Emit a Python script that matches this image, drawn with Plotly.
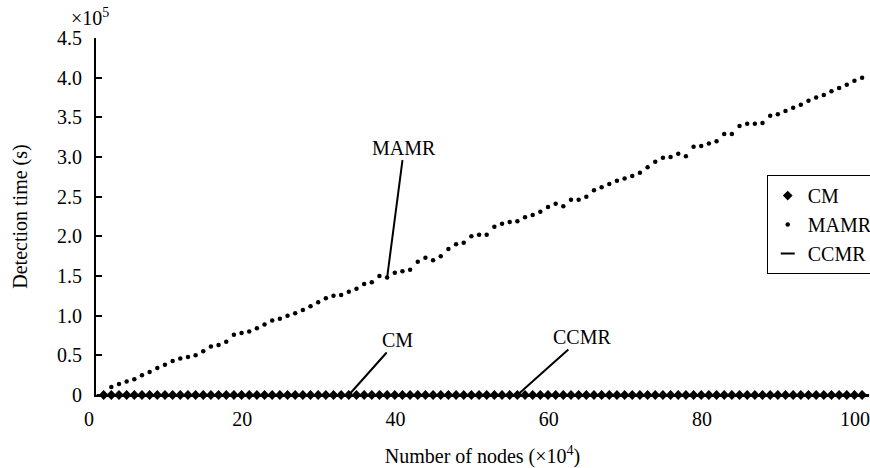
import plotly.graph_objects as go

# ---------------- data ----------------
nodes = list(range(1, 101))                      # number of nodes (x10^4)
cm_values = [0] * 100                            # CM detection time (x10^5 s), ~0 at this scale
ccmr_values = [0] * 100                          # CCMR detection time (x10^5 s), ~0 at this scale
mamr_nodes = list(range(2, 101))
mamr_values = [
    0.10, 0.14, 0.17, 0.20, 0.25, 0.29, 0.34, 0.38, 0.43, 0.46,
    0.48, 0.50, 0.55, 0.61, 0.63, 0.67, 0.76, 0.78, 0.80, 0.84,
    0.89, 0.94, 0.96, 1.00, 1.03, 1.07, 1.12, 1.17, 1.22, 1.25,
    1.26, 1.30, 1.34, 1.40, 1.42, 1.50, 1.48, 1.54, 1.56, 1.58,
    1.68, 1.73, 1.70, 1.75, 1.84, 1.90, 1.92, 2.00, 2.02, 2.02,
    2.12, 2.16, 2.18, 2.19, 2.24, 2.27, 2.31, 2.37, 2.41, 2.38,
    2.46, 2.46, 2.50, 2.58, 2.62, 2.66, 2.70, 2.73, 2.76, 2.80,
    2.87, 2.94, 2.99, 3.00, 3.04, 3.01, 3.13, 3.14, 3.17, 3.20,
    3.29, 3.29, 3.39, 3.42, 3.42, 3.43, 3.52, 3.54, 3.58, 3.62,
    3.66, 3.71, 3.75, 3.78, 3.83, 3.87, 3.91, 3.96, 4.00,
]
x_tickvals = [0, 20, 40, 60, 80, 100]
y_tickvals = [0, 0.5, 1.0, 1.5, 2.0, 2.5, 3.0, 3.5, 4.0, 4.5]
y_ticktext = ["0", "0.5", "1.0", "1.5", "2.0", "2.5", "3.0", "3.5", "4.0", "4.5"]

# annotation targets (node index on each series)
mamr_label_node = 38
cm_label_node = 33
ccmr_label_node = 55

FONT = "Liberation Serif"
FS = 20

fig = go.Figure()

fig.add_trace(go.Scatter(
    x=nodes, y=ccmr_values, name="CCMR", mode="markers", legendrank=3,
    marker=dict(symbol="line-ew", size=10, color="black",
                line=dict(color="black", width=2)),
    cliponaxis=False,
))
fig.add_trace(go.Scatter(
    x=nodes, y=cm_values, name="CM", mode="markers", legendrank=1,
    marker=dict(symbol="diamond", size=7.5, color="black", line=dict(width=0)),
    cliponaxis=False,
))
fig.add_trace(go.Scatter(
    x=mamr_nodes, y=mamr_values, name="MAMR", mode="markers", legendrank=2,
    marker=dict(symbol="circle", size=4.5, color="black", line=dict(width=0)),
    cliponaxis=False,
))

ann_common = dict(showarrow=True, arrowhead=0, arrowwidth=2, arrowcolor="black",
                  standoff=0, font=dict(family=FONT, size=FS, color="black"),
                  xref="x", yref="y")
fig.add_annotation(x=mamr_label_node, y=mamr_values[mamr_nodes.index(mamr_label_node)],
                   text="MAMR", ax=17, ay=-130, **ann_common)
fig.add_annotation(x=cm_label_node, y=cm_values[nodes.index(cm_label_node)],
                   text="CM", ax=49, ay=-55, **ann_common)
fig.add_annotation(x=ccmr_label_node, y=ccmr_values[nodes.index(ccmr_label_node)],
                   text="CCMR", ax=65, ay=-58, **ann_common)

# x10^5 multiplier above the y axis
fig.add_annotation(text="×10<sup>5</sup>", xref="paper", yref="paper",
                   x=-0.008, y=1.0, yshift=7, xanchor="center", yanchor="bottom",
                   showarrow=False, font=dict(family=FONT, size=FS, color="black"))

fig.update_layout(
    width=870, height=468,
    margin=dict(l=96, r=1, t=38, b=73, autoexpand=False),
    paper_bgcolor="white", plot_bgcolor="white",
    font=dict(family=FONT, size=FS, color="black"),
    legend=dict(x=0.8677, y=0.616, xanchor="left", yanchor="top",
                bordercolor="black", borderwidth=1, bgcolor="white",
                font=dict(family=FONT, size=FS, color="black"),
                tracegroupgap=0, itemwidth=30),
    xaxis=dict(range=[0, 100.9], tickvals=x_tickvals, showgrid=False, zeroline=False,
               showline=True, linecolor="black", linewidth=2, ticks="",
               ticklabelshift=-7, ticklabelstandoff=5, ticklabeloverflow="allow",
               title=dict(text="Number of nodes (×10<sup>4</sup>)", standoff=22,
                          font=dict(family=FONT, size=FS))),
    yaxis=dict(range=[0, 4.5], tickvals=y_tickvals, ticktext=y_ticktext,
               showgrid=False, zeroline=False, showline=True, linecolor="black",
               linewidth=2, ticks="inside", ticklen=6, tickwidth=2, tickcolor="black",
               ticklabelstandoff=8,
               title=dict(text="Detection time (s)", standoff=24,
                          font=dict(family=FONT, size=FS))),
)

fig.write_html("out.html")
